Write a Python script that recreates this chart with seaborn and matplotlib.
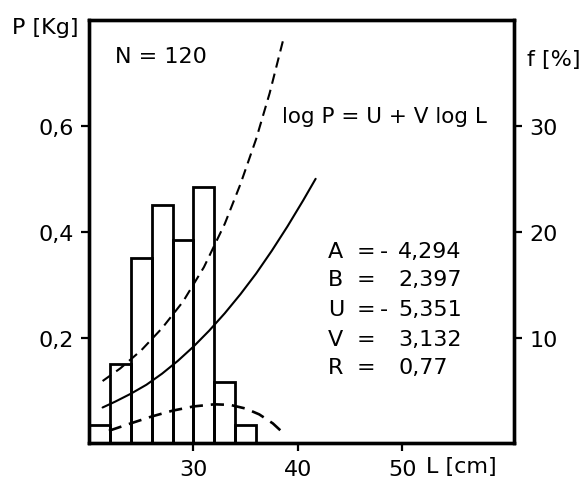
import matplotlib
matplotlib.use("Agg")
import matplotlib.pyplot as plt
import seaborn as sns

# ---- data ----
bin_left = [20, 22, 24, 26, 28, 30, 32, 34]           # length classes [cm]
freq_pct = [1.7, 7.5, 17.5, 22.5, 19.2, 24.2, 5.8, 1.7]  # f [%]

fit_L = [21.3, 22.5, 24.0, 25.5, 27.0, 28.5, 30.0, 31.5, 33.0, 34.5, 36.0, 37.5, 39.0, 40.5, 41.7]
fit_P = [0.068, 0.079, 0.094, 0.111, 0.132, 0.156, 0.183, 0.213, 0.246, 0.282,
         0.321, 0.364, 0.410, 0.459, 0.500]

upper_L = [21.3, 23.0, 25.0, 27.0, 29.0, 31.0, 33.0, 34.5, 36.0, 37.3, 38.6]
upper_P = [0.118, 0.142, 0.176, 0.218, 0.268, 0.333, 0.415, 0.490, 0.575, 0.662, 0.763]

lower_L = [21.9, 24.0, 26.0, 28.0, 30.0, 32.0, 33.5, 35.0, 36.3, 37.6, 38.7]
lower_P = [0.024, 0.038, 0.051, 0.062, 0.070, 0.074, 0.073, 0.066, 0.055, 0.038, 0.018]

x_ticks = [30, 40, 50]
x_ticklabels = ["30", "40", "50"]
p_ticks = [0.2, 0.4, 0.6]
p_ticklabels = ["0,2", "0,4", "0,6"]
f_ticks = [10, 20, 30]
f_ticklabels = ["10", "20", "30"]

param_names = ["A", "B", "U", "V", "R"]
param_signs = ["-", "", "-", "", ""]
param_values = ["4,294", "2,397", "5,351", "3,132", "0,77"]

# ---- style ----
sns.set_theme(style="ticks")
plt.rcParams["font.family"] = ["DejaVu Sans"]
plt.rcParams["text.color"] = "black"
FS = 16

fig = plt.figure(figsize=(5.83, 4.81), dpi=100)
ax = fig.add_axes([0.1527, 0.0759, 0.729, 0.8804])
ax2 = ax.twinx()

# histogram (f %) on right axis
sns.histplot(x=[b + 1 for b in bin_left], weights=freq_pct,
             bins=bin_left + [bin_left[-1] + 2], fill=False,
             color="black", linewidth=2.0, ax=ax2)
ax2.set_ylabel("")

# curves on left axis (P kg)
sns.lineplot(x=fit_L, y=fit_P, ax=ax, color="black", linewidth=1.5,
             sort=False, estimator=None)
sns.lineplot(x=upper_L, y=upper_P, ax=ax, color="black", linewidth=1.5,
             linestyle=(0, (5, 3)), sort=False, estimator=None)
sns.lineplot(x=lower_L, y=lower_P, ax=ax, color="black", linewidth=1.9,
             linestyle=(0, (5, 3)), sort=False, estimator=None)

ax.set_xlim(20, 60.7)
ax.set_ylim(0, 0.8)
ax2.set_ylim(0, 40)

ax.set_xticks(x_ticks)
ax.set_xticklabels(x_ticklabels)
ax.set_yticks(p_ticks)
ax.set_yticklabels(p_ticklabels)
ax2.set_yticks(f_ticks)
ax2.set_yticklabels(f_ticklabels)
ax.set_xlabel("")
ax.set_ylabel("")

for a in (ax, ax2):
    a.tick_params(direction="out", length=6, width=1.6, labelsize=FS,
                  pad=5, colors="black")
    for s in a.spines.values():
        s.set_linewidth(2.4)
        s.set_color("black")

# texts
ax.text(0.061, 0.915, "N = 120", transform=ax.transAxes, fontsize=FS,
        va="center", ha="left")
ax.text(0.454, 0.773, "log P = U + V log L", transform=ax.transAxes,
        fontsize=FS - 0.5, va="center", ha="left")
row_y = [0.4545, 0.388, 0.318, 0.247, 0.181]
for name, sign, val, yy in zip(param_names, param_signs, param_values, row_y):
    ax.text(0.562, yy, name, transform=ax.transAxes, fontsize=FS, va="center")
    ax.text(0.630, yy, "=", transform=ax.transAxes, fontsize=FS, va="center")
    if sign:
        ax.text(0.684, yy, sign, transform=ax.transAxes, fontsize=FS, va="center")
    ax.text(0.727, yy, val, transform=ax.transAxes, fontsize=FS, va="center")

ax.text(0.793, -0.053, "L [cm]", transform=ax.transAxes, fontsize=FS,
        va="center", ha="left")
fig.text(12 / 583, 1 - 28 / 481, "P [Kg]", fontsize=FS, va="center", ha="left")
fig.text(527 / 583, 1 - 60 / 481, "f [%]", fontsize=FS, va="center", ha="left")

fig.savefig("out.png", dpi=100)
